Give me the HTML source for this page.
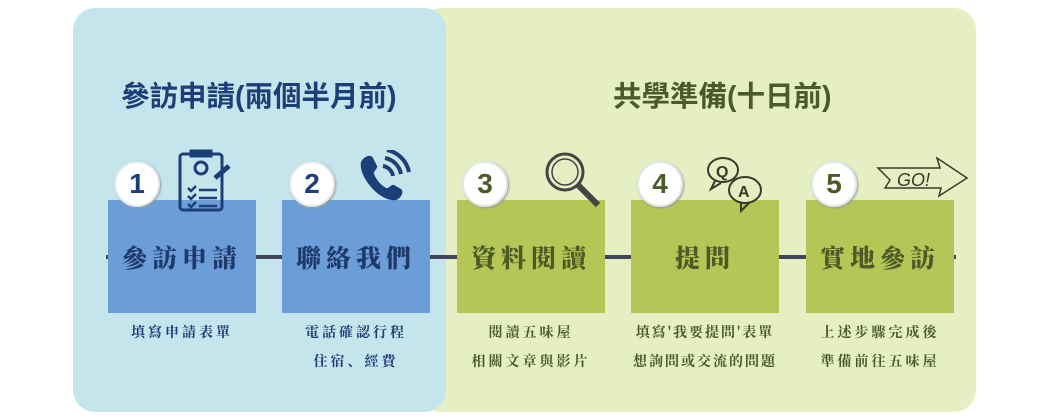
<!DOCTYPE html>
<html><head><meta charset="utf-8"><style>
body{margin:0;width:1050px;height:420px;background:#fff;position:relative;overflow:hidden;font-family:"Liberation Sans","Noto Sans CJK TC",sans-serif}
.abs{position:absolute}
.panel{position:absolute;top:8px;height:404px;border-radius:22px}
.title{position:absolute;font-weight:bold;font-size:28.5px;white-space:nowrap}
.box{position:absolute;top:200px;width:148px;height:113px;display:flex;align-items:center;justify-content:center;font-size:25px;font-weight:900;letter-spacing:5px;font-family:"Noto Serif CJK SC","Noto Sans CJK TC",serif}
.b{background:#6b9ed9;color:#1f3a68}
.g{background:#b5c656;color:#4b5a26}
.circ{position:absolute;top:161px;width:42px;height:42px;border-radius:50%;background:#fff;border:2px solid #dfe8ea;box-shadow:1px 1px 2px #999;display:flex;align-items:center;justify-content:center;font-size:28px;font-weight:bold}
.desc{position:absolute;width:190px;text-align:center;font-size:14px;font-weight:bold;line-height:29px;letter-spacing:3px;top:318px;font-family:"Noto Serif CJK SC","Noto Sans CJK TC",serif}
.line{position:absolute;top:255px;height:4px;background:#3e4658}
</style></head><body>
<div class="panel" style="left:420px;width:556px;background:#e6efc4"></div>
<div class="panel" style="left:73px;width:373px;background:#c4e5ec"></div>
<div class="title" style="left:121px;top:74px;color:#1d3f78">參訪申請(兩個半月前)</div>
<div class="title" style="left:613px;top:74px;color:#4b5a26">共學準備(十日前)</div>
<div class="line" style="left:106px;width:850px"></div>

<div class="box b" style="left:108px">參訪申請</div>
<div class="box b" style="left:282px">聯絡我們</div>
<div class="box g" style="left:457px">資料閱讀</div>
<div class="box g" style="left:631px">提問</div>
<div class="box g" style="left:806px">實地參訪</div>

<div class="circ" style="left:114px;color:#1d3f78">1</div>
<div class="circ" style="left:289px;color:#1d3f78">2</div>
<div class="circ" style="left:462px;color:#4b5a26">3</div>
<div class="circ" style="left:637px;color:#4b5a26">4</div>
<div class="circ" style="left:811px;color:#4b5a26">5</div>

<svg class="abs" style="left:175px;top:148px" width="60" height="66" viewBox="0 0 60 66" fill="none" stroke="#1d3f78" stroke-width="3">
<rect x="5" y="6" width="42" height="56" rx="3"/><rect x="16" y="3" width="20" height="5" fill="#1d3f78"/>
<circle cx="26" cy="20" r="6"/><path d="M13 40l3 3 5-5M13 48l3 3 5-5M13 56l3 3 5-5M24 42h18M24 50h18M24 58h18" stroke-width="2.5"/>
<path d="M40 30l14-12" stroke-width="5"/></svg>
<svg class="abs" style="left:355px;top:150px" width="60" height="60" viewBox="0 0 60 60" fill="none" stroke="#1d3f78">
<path d="M6 12c3-6 10-8 12-4l4 8c1 3-4 5-3 8 3 7 7 11 12 14 3 1 5-4 8-3l7 4c3 2 1 9-5 11-15 3-38-23-35-38z" fill="#1d3f78" stroke="none"/>
<path d="M28 16a12 12 0 0 1 10 10M30 8a20 20 0 0 1 16 16M32 0a28 28 0 0 1 22 22" stroke-width="4"/></svg>
<svg class="abs" style="left:543px;top:150px" width="62" height="62" fill="none" stroke="#444"><circle cx="22" cy="22" r="18" stroke-width="3"/><circle cx="22" cy="22" r="13" stroke-width="1.5"/><path d="M35 35l20 20" stroke-width="6"/></svg>
<svg class="abs" style="left:705px;top:155px" width="62" height="58" fill="none" stroke="#3a3a2a" stroke-width="2"><ellipse cx="18" cy="15" rx="15" ry="12"/><path d="M10 26l-4 8 10-6"/><text x="11" y="22" font-size="16" font-weight="bold" fill="#3a3a2a" stroke="none">Q</text><ellipse cx="40" cy="35" rx="16" ry="13" fill="#e6efc4"/><path d="M36 48l0 8 8-8"/><text x="33" y="42" font-size="16" font-weight="bold" fill="#3a3a2a" stroke="none">A</text></svg>
<svg class="abs" style="left:875px;top:155px" width="95" height="50" fill="none" stroke="#3a3a2a" stroke-width="1.5"><path d="M3 13h62l-3-10 30 20-28 18 2-8H10l5-8z"/><text x="22" y="31" font-size="18" font-style="italic" fill="#3a3a2a" stroke="none">GO!</text></svg>

<div class="desc" style="left:87px;color:#1d3f78">填寫申請表單</div>
<div class="desc" style="left:261px;color:#1d3f78">電話確認行程<br>住宿、經費</div>
<div class="desc" style="left:436px;color:#4b5a26">閱讀五味屋<br>相關文章與影片</div>
<div class="desc" style="left:610px;color:#4b5a26;letter-spacing:2px">填寫'我要提問'表單<br>想詢問或交流的問題</div>
<div class="desc" style="left:785px;color:#4b5a26">上述步驟完成後<br>準備前往五味屋</div>
</body></html>
